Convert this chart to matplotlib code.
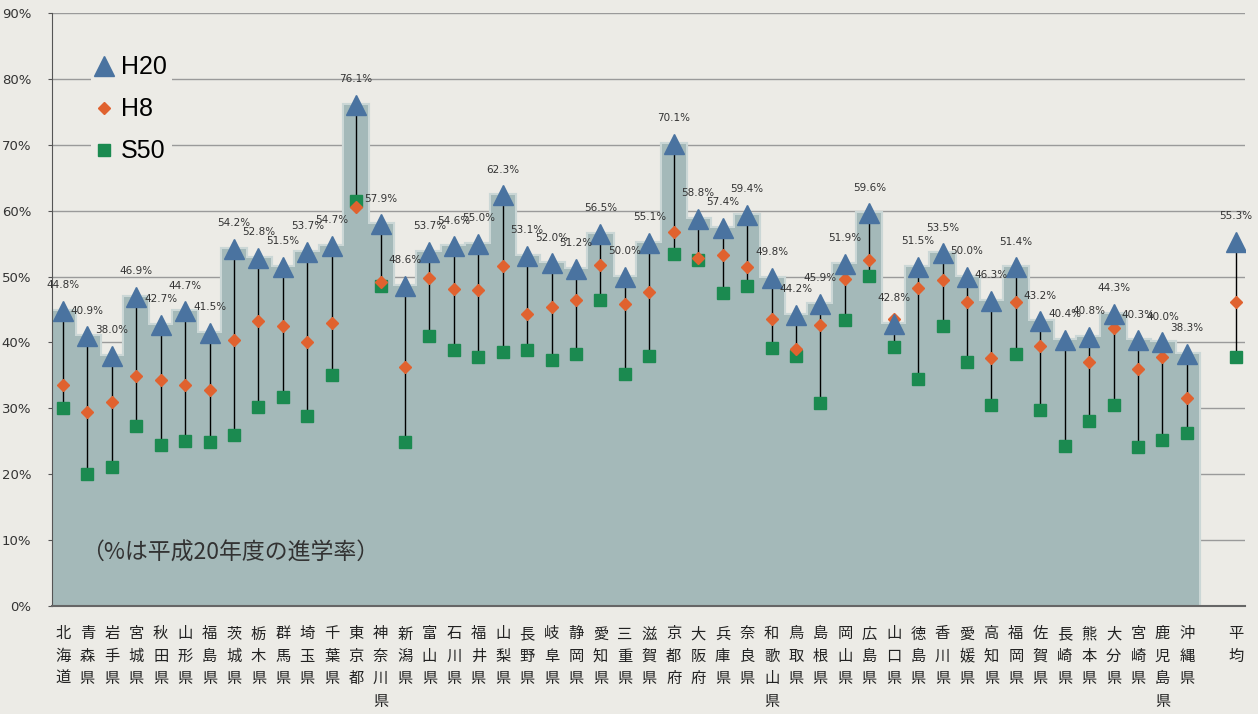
import numpy as np
import matplotlib.pyplot as plt
from matplotlib.lines import Line2D

plt.rcParams['font.family'] = ['Noto Sans CJK JP', 'DejaVu Sans']

# prefectures (47) + national average
prefs = ["北海道", "青森県", "岩手県", "宮城県", "秋田県", "山形県", "福島県",
         "茨城県", "栃木県", "群馬県", "埼玉県", "千葉県", "東京都", "神奈川県",
         "新潟県", "富山県", "石川県", "福井県", "山梨県", "長野県", "岐阜県",
         "静岡県", "愛知県", "三重県", "滋賀県", "京都府", "大阪府", "兵庫県",
         "奈良県", "和歌山県", "鳥取県", "島根県", "岡山県", "広島県", "山口県",
         "徳島県", "香川県", "愛媛県", "高知県", "福岡県", "佐賀県", "長崎県",
         "熊本県", "大分県", "宮崎県", "鹿児島県", "沖縄県"]
avg_label = "平均"

h20 = [44.8, 40.9, 38.0, 46.9, 42.7, 44.7, 41.5, 54.2, 52.8, 51.5, 53.7, 54.7,
       76.1, 57.9, 48.6, 53.7, 54.6, 55.0, 62.3, 53.1, 52.0, 51.2, 56.5, 50.0,
       55.1, 70.1, 58.8, 57.4, 59.4, 49.8, 44.2, 45.9, 51.9, 59.6, 42.8, 51.5,
       53.5, 50.0, 46.3, 51.4, 43.2, 40.4, 40.8, 44.3, 40.3, 40.0, 38.3]
h8 = [33.6, 29.5, 31.0, 34.9, 34.3, 33.5, 32.8, 40.4, 43.3, 42.5, 40.1, 43.0,
      60.5, 49.2, 36.3, 49.8, 48.1, 48.0, 51.6, 44.3, 45.4, 46.4, 51.7, 45.9,
      47.7, 56.8, 52.8, 53.2, 51.5, 43.5, 39.0, 42.7, 49.7, 52.5, 43.6, 48.3,
      49.4, 46.2, 37.7, 46.2, 39.4, 39.8, 37.1, 42.2, 35.9, 37.8, 31.6]
s50 = [30.0, 20.1, 21.1, 27.3, 24.5, 25.1, 24.9, 26.0, 30.2, 31.7, 28.8, 35.0,
       61.5, 48.6, 24.9, 40.9, 38.9, 37.8, 38.5, 38.9, 37.4, 38.3, 46.4, 35.2,
       38.0, 53.4, 52.5, 47.5, 48.5, 39.2, 38.0, 30.8, 43.4, 50.1, 39.3, 34.5,
       42.5, 37.1, 30.5, 38.3, 29.8, 24.3, 28.0, 30.5, 24.1, 25.2, 26.2]
avg_h20, avg_h8, avg_s50 = 55.3, 46.2, 37.8

yticks = [0, 10, 20, 30, 40, 50, 60, 70, 80, 90]

BG = "#ecebe6"
FILL = "#a4b9b9"
HALO = "#cbd7d6"
C_H20 = "#4a73a0"
C_H8 = "#e0622f"
C_S50 = "#1b8a50"

x = np.arange(len(prefs))
x_avg = len(prefs) + 1
x_all = np.append(x, x_avg)
v20 = np.append(h20, avg_h20)
v8 = np.append(h8, avg_h8)
v50 = np.append(s50, avg_s50)

fig = plt.figure(figsize=(12.58, 7.14), dpi=100, facecolor=BG)
ax = fig.add_axes([0.0413, 0.1513, 0.9484, 0.8305], facecolor=BG)

# stepped area of H20 with a pale rim
edges = np.arange(len(prefs) + 1) - 0.5
ax.stairs(h20, edges, baseline=0, color=HALO, lw=3, zorder=1)
ax.stairs(h20, edges, baseline=0, fill=True, color=FILL, zorder=2)

# min-max connector lines
lo = np.minimum(np.minimum(v20, v8), v50)
hi = np.maximum(np.maximum(v20, v8), v50)
ax.vlines(x_all, lo, hi, color="black", lw=1, zorder=3)

ax.plot(x_all, v50, ls="none", marker="s", ms=9, color=C_S50, zorder=4)
ax.plot(x_all, v8, ls="none", marker="D", ms=6, color=C_H8, zorder=5)
ax.plot(x_all, v20, ls="none", marker="^", ms=14, color=C_H20, zorder=6)

for xi, v in zip(x_all, v20):
    ax.text(xi, v + 3.9, f"{v:.1f}%", ha="center", va="center",
            fontsize=7.5, color="#333333", family="DejaVu Sans", zorder=7)

ax.text(0.75, 8.0, "（%は平成20年度の進学率）", fontsize=16.5, color="#333333",
        ha="left", va="center", zorder=7)

ax.set_xlim(-0.45, 48.38)
ax.set_ylim(0, 90)
ax.set_yticks(yticks)
ax.set_yticklabels([f"{t}%" for t in yticks], family="DejaVu Sans",
                   fontsize=9.5, color="#333333")
ax.yaxis.grid(True, color="#9a9a9a", lw=1)
ax.set_axisbelow(True)
ax.tick_params(axis="y", length=3, pad=12, color="#555555")

ax.set_xticks(x_all)
ax.set_xticklabels(["\n".join(p) for p in prefs] + ["\n".join(avg_label)],
                   fontsize=11, linespacing=1.42, color="#222222")
ax.tick_params(axis="x", length=0, pad=14)

for s in ("top", "right"):
    ax.spines[s].set_visible(False)
ax.spines["left"].set_color("#555555")
ax.spines["bottom"].set_color("#666666")
ax.spines["bottom"].set_linewidth(1.5)

handles = [
    Line2D([], [], ls="none", marker="^", ms=14, color=C_H20),
    Line2D([], [], ls="none", marker="D", ms=6, color=C_H8),
    Line2D([], [], ls="none", marker="s", ms=9, color=C_S50),
]
leg = ax.legend(handles, ["H20", "H8", "S50"], loc="upper left",
                bbox_to_anchor=(0.022, 0.958), frameon=True, facecolor=BG,
                edgecolor="none", framealpha=1, handlelength=0.7,
                handletextpad=0.3, labelspacing=0.72, borderpad=0.2,
                prop={"family": "Liberation Sans", "size": 18})
leg.set_zorder(8)

fig.savefig("out.png", dpi=100, facecolor=BG)
